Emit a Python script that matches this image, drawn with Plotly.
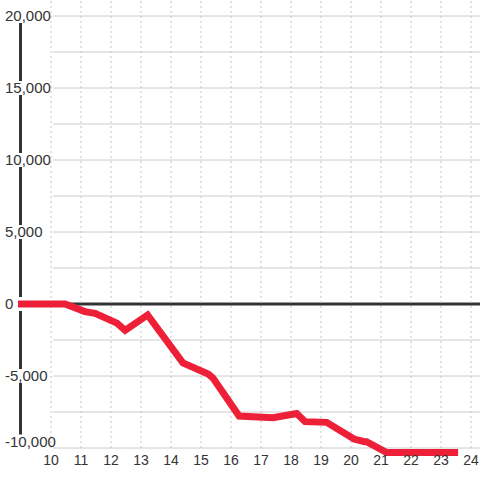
import plotly.graph_objects as go

# Data (hour of day vs cumulative value)
hours = [8.9, 10.47, 11.13, 11.47, 12.2, 12.47, 13.22, 14.4, 15.24, 15.4, 16.27,
         16.97, 17.4, 18.19, 18.47, 19.19, 19.52, 20.1, 20.45, 20.52, 21.19, 23.57]
values = [0, 0, -530, -650, -1330, -1830, -760, -4100, -4860, -5140, -7780,
          -7780, -7900, -7600, -8170, -8220, -8630, -9380, -9560, -9560, -10320, -10320]

x_ticks = list(range(10, 25))
y_label_vals = [-10000, -5000, 0, 5000, 10000, 15000, 20000]
y_label_text = ["-10,000", "-5,000", "0", "5,000", "10,000", "15,000", "20,000"]
y_grid_vals = [-10000, -7500, -5000, -2500, 2500, 5000, 7500, 10000, 12500, 15000, 17500, 20000]

W, H = 480, 480
PXY = 0.0144  # pixels per unit (y)
y_top = 20000 + 16 / PXY
y_bot = -10000 - 32 / PXY

# the lowest label is lifted a little so it clears the x-axis labels
label_pos = [v + (6.5 / PXY if v == min(y_label_vals) else 0) for v in y_label_vals]

fig = go.Figure()
fig.add_trace(go.Scatter(x=hours, y=values, mode="lines",
                         line=dict(color="#ed2038", width=7),
                         cliponaxis=False, hoverinfo="skip"))

shapes = []
# horizontal grid lines
for v in y_grid_vals:
    shapes.append(dict(type="line", xref="paper", yref="y", x0=53 / W, x1=1, y0=v, y1=v,
                       line=dict(color="#cccccc", width=1), layer="below"))
# vertical dotted grid lines
for t in x_ticks:
    shapes.append(dict(type="line", xref="x", yref="y", x0=t, x1=t, y0=min(y_grid_vals), y1=y_top,
                       line=dict(color="#c4c4c4", width=1, dash="2px,3px"), layer="below"))
# zero line
shapes.append(dict(type="line", xref="paper", yref="y", x0=20 / W, x1=1, y0=0, y1=0,
                   line=dict(color="#333333", width=3), layer="between"))
# vertical axis line with gaps behind the labels
gap = 7 / PXY
labs = sorted(label_pos)
for a, b in zip(labs[:-1], labs[1:]):
    shapes.append(dict(type="line", xref="paper", yref="y", x0=20.5 / W, x1=20.5 / W,
                       y0=a + gap, y1=b - gap,
                       line=dict(color="#333333", width=3), layer="between"))

fig.update_layout(
    width=W, height=H,
    margin=dict(l=0, r=0, t=0, b=0),
    paper_bgcolor="white", plot_bgcolor="white",
    showlegend=False,
    shapes=shapes,
    font=dict(family="Liberation Sans, Arial, sans-serif", color="#333333"),
    xaxis=dict(range=[10 - 51 / 30, 10 + 429 / 30], tickvals=x_ticks,
               anchor="free", position=30 / H,
               showgrid=False, zeroline=False, showline=False, ticks="",
               tickfont=dict(size=14, color="#333333")),
    yaxis=dict(range=[y_bot, y_top], tickvals=label_pos, ticktext=y_label_text,
               side="right", anchor="free", position=0,
               ticklabelposition="outside", ticklabelstandoff=4,
               showgrid=False, zeroline=False, showline=False, ticks="",
               tickfont=dict(size=15, color="#333333")),
)

fig.write_html("out.html", post_script="document.body.style.margin='0';",
               config={"displayModeBar": False})
